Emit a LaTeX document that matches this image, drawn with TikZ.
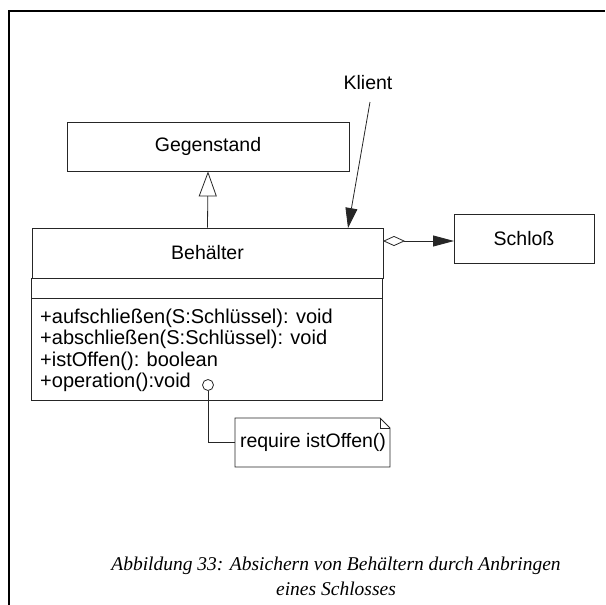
\documentclass[tikz,border=0pt]{standalone}
\usepackage{fontspec}
\setmainfont{Liberation Sans}
\newfontfamily\captionfont{Liberation Serif}
\usetikzlibrary{arrows.meta}
\begin{document}
\begin{tikzpicture}[x=1pt,y=-1pt,
  umlbox/.style={draw=black!85,line width=0.8pt,rectangle,inner sep=0pt,
    font=\fontsize{19.5}{22}\selectfont},
  conn/.style={draw=black!85,line width=0.8pt},
  frameline/.style={draw=black,line width=1.4pt}]
\useasboundingbox (0,0) rectangle (605,605);
% page frame (left and top edges)
\draw[frameline] (9,605) -- (9,11) -- (605,11);

% classes
\node[umlbox,minimum width=282pt,minimum height=49pt] (geg) at (208,146.5) {Gegenstand};
\node[umlbox,minimum width=140pt,minimum height=49pt] (schloss) at (524,238.5) {Schloß};
\node[umlbox,minimum width=351pt,minimum height=50pt] (beh) at (207.5,253) {Behälter};
% attribute and operation compartments below the class name
\draw[conn] (beh.south west) -- ++(0,122) -- ++(351,0) -- ++(0,-122);
\draw[conn] (beh.south west) ++(0,20) -- ++(351,0);
\node[anchor=north west,inner sep=0pt,align=left,
  font=\fontsize{20}{21.3}\selectfont] (opstext) at (40,309)
  {+aufschließen(S:Schlüssel): void\\
   +abschließen(S:Schlüssel): void\\
   +istOffen(): boolean\\
   +operation():void};

% client
\node[font=\fontsize{19.5}{22}\selectfont,inner sep=0pt] (klient) at (368,83) {Klient};
\coordinate (kstart) at (370,102);
\coordinate (ktip) at (348,228);
\draw[conn,-{Triangle[length=20pt,width=12pt]}] (kstart) -- (ktip);

% generalization
\draw[conn,-{Triangle[open,length=25pt,width=18pt,fill=white]}] (beh.north) -- (geg.south);

% aggregation
\coordinate (aggs) at (383,241);
\coordinate (agge) at (454,241);
\draw[conn,{Diamond[open,length=22pt,width=10pt,fill=white]}-{Triangle[length=21pt,width=11pt]}] (aggs) -- (agge);

% note with folded corner
\coordinate (nw) at (235,418);
\draw[conn] (nw) -- (380,418) -- (390,428) -- (390,467) -- (235,467) -- cycle;
\draw[conn] (380,418) -- (380,428) -- (390,428);
\node[font=\fontsize{19.5}{22}\selectfont,inner sep=0pt] (notetext) at (313,442) {require istOffen()};

% lollipop link from the operation to the note
\node[draw=black!85,line width=0.8pt,circle,minimum size=11pt,inner sep=0pt] (lolli) at (208,385) {};
\coordinate (bend) at (208,442);
\draw[conn] (lolli.south) -- (bend) -- (235,442);

% caption
\node[font=\captionfont\itshape\fontsize{19.5}{25}\selectfont,align=center,inner sep=0pt] (cap) at (336,576)
  {Abbildung 33: Absichern von Behältern durch Anbringen\\eines Schlosses};
\end{tikzpicture}
\end{document}
